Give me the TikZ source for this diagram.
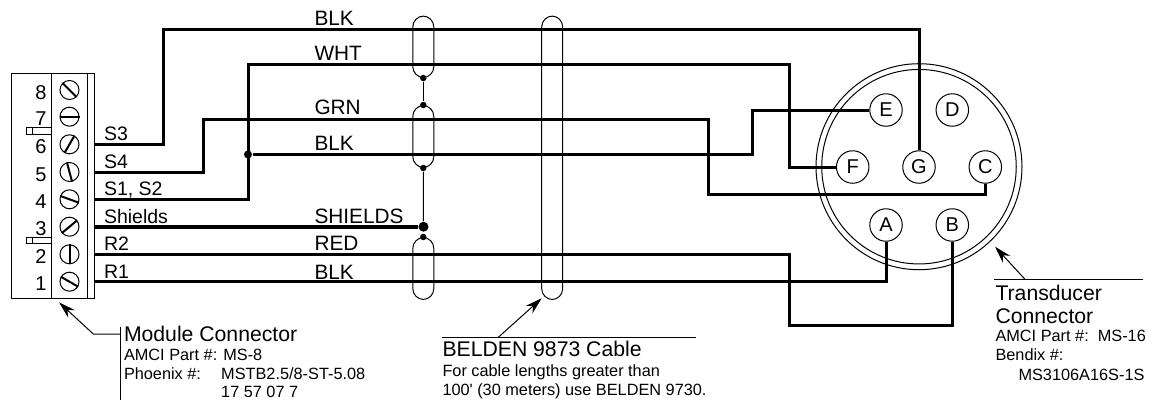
\documentclass[tikz,border=0pt]{standalone}
\usepackage{fontspec}
\setmainfont{Liberation Sans}
\usetikzlibrary{positioning,arrows.meta}

\begin{document}
\begin{tikzpicture}[
	x=1pt, y=-1pt, line width=1pt,
	screw/.style={circle, draw, minimum size=19pt, inner sep=0pt, on grid},
	slot/.style={line width=2pt},
	pin/.style={circle, draw, minimum size=32.5pt, inner sep=0pt, on grid, font=\fontsize{20}{22}\selectfont},
	wire/.style={line width=3pt},
	sleeve/.style={rectangle, draw, rounded corners=10.9pt, minimum width=21pt, inner sep=0pt},
	dot/.style={circle, fill=black, inner sep=0pt, minimum size=6.5pt},
	label/.style={anchor=base west, inner sep=0pt, font=\fontsize{19.5}{22}\selectfont},
	colour/.style={label, font=\fontsize{20.8}{23}\selectfont},
	big/.style={anchor=base west, inner sep=0pt, font=\fontsize{21.2}{24}\selectfont},
	small/.style={anchor=base west, inner sep=0pt, font=\fontsize{16.3}{18}\selectfont},
	num/.style={anchor=base east, inner sep=0pt, font=\fontsize{20}{22}\selectfont},
	leader/.style={-{Stealth[length=17pt,width=10pt]}}
	]
	\useasboundingbox (0,0) rectangle (1163,402);

	% Module connector body
	\node[draw, anchor=north west, minimum width=83.5pt, minimum height=225pt, inner sep=0pt] (plug) at (10.5,72.7) {};
	\draw (51.3,72.7) -- (51.3,297.7);
	\draw (87.3,72.7) -- (87.3,297.7);
	\draw (26.7,127.3) rectangle (51.3,134);
	\draw (32,127.3) -- (32,134);
	\draw (26.7,237.3) rectangle (51.3,243.3);
	\draw (32,237.3) -- (32,243.3);

	% Screws and slots
	\node[screw] (s8) at (69.5,90) {};
	\node[screw, below=26.7pt of s8] (s7) {};
	\node[screw, below=27.6pt of s7] (s6) {};
	\node[screw, below=27.7pt of s6] (s5) {};
	\node[screw, below=27.3pt of s5] (s4) {};
	\node[screw, below=27.4pt of s4] (s3) {};
	\node[screw, below=27.6pt of s3] (s2) {};
	\node[screw, below=27.4pt of s2] (s1) {};
	\draw[slot] (s8.135) -- (s8.-45);
	\draw[slot] (s7.180) -- (s7.0);
	\draw[slot] (s6.60) -- (s6.240);
	\draw[slot] (s5.105) -- (s5.285);
	\draw[slot] (s4.160) -- (s4.-20);
	\draw[slot] (s3.40) -- (s3.220);
	\draw[slot] (s2.90) -- (s2.270);
	\draw[slot] (s1.150) -- (s1.-30);

	% Terminal numbers
	\node[num] (n8) at (47,99) {8};
	\node[num] (n7) at (47,125) {7};
	\node[num] (n6) at (47,153) {6};
	\node[num] (n5) at (47,181) {5};
	\node[num] (n4) at (47,208) {4};
	\node[num] (n3) at (47,235) {3};
	\node[num] (n2) at (47,263) {2};
	\node[num] (n1) at (47,290) {1};

	% Terminal names
	\node[label] (ls3) at (103.5,140.7) {S3};
	\node[label] (ls4) at (103.5,168) {S4};
	\node[label] (ls12) at (103.5,195.7) {S1, S2};
	\node[label] (lsh) at (103.5,223) {Shields};
	\node[label] (lr2) at (103.5,250) {R2};
	\node[label] (lr1) at (103.5,278) {R1};

	% Transducer connector shell and pins
	\node[circle, draw, minimum size=206pt, inner sep=0pt] (shell) at (919,166.7) {};
	\node[circle, draw, minimum size=194.5pt, inner sep=0pt] (shellin) at (919,166.7) {};
	\node[pin] (G) at (919,167) {G};
	\node[pin, left=66.3pt of G] (F) {F};
	\node[pin, right=66.3pt of G] (C) {C};
	\node[pin] (E) at (886,110) {E};
	\node[pin, right=66.3pt of E] (D) {D};
	\node[pin] (A) at (886,225) {A};
	\node[pin, right=66.3pt of A] (B) {B};

	% Wires
	\node[dot, minimum size=8pt] (jn) at (248,154.5) {};
	\node[dot, minimum size=10pt] (shd) at (423.5,226.7) {};
	\draw[wire] (plug.east |- s6) -| (163,29) -| (G.north);
	\draw[wire] (plug.east |- s5) -| (203,119) -| (708,194) -| (C.south);
	\draw[wire] (plug.east |- s4) -| (248,64) -| (789.5,167) -- (F.west);
	\draw[wire] (jn) -| (752,110) -- (E.west);
	\draw[wire, line width=3.8pt] (plug.east |- s3) -- (shd);
	\draw[wire] (plug.east |- s2) -| (789.5,325) -| (B.south);
	\draw[wire] (plug.east |- s1) -| (A.south);

	% Wire colours
	\node[colour] (c1) at (314,25) {BLK};
	\node[colour] (c2) at (314,60) {WHT};
	\node[colour] (c3) at (314,114.3) {GRN};
	\node[colour] (c4) at (314,150.7) {BLK};
	\node[colour] (c5) at (314,223.3) {SHIELDS};
	\node[colour] (c6) at (314,250) {RED};
	\node[colour] (c7) at (314,279.3) {BLK};

	% Pair sleeves and drain wire
	\node[sleeve, minimum height=61.5pt] (p1) at (423.3,46.8) {};
	\node[sleeve, minimum height=62pt] (p2) at (423.3,136.5) {};
	\node[sleeve, minimum height=62pt] (p3) at (423.3,268.5) {};
	\node[sleeve, minimum height=283.5pt] (cable) at (552.2,157.8) {};
	\node[dot] (d1) at (p1.south) {};
	\node[dot] (d2) at (p2.north) {};
	\node[dot] (d3) at (p2.south) {};
	\node[dot] (d4) at (p3.north) {};
	\draw (d1) -- (d2);
	\draw (d3) -- (shd);

	% Module connector callout
	\coordinate (mtip) at (59,302.3);
	\coordinate (mbend) at (93.3,334);
	\coordinate (mbar) at (120.7,334);
	\draw[leader] (mbar) -- (mbend) -- (mtip);
	\draw (120.7,326.7) -- (120.7,400);
	\node[big] (m1) at (123.5,341.7) {Module Connector};
	\node[small] (m2) at (123.5,360.7) {AMCI Part \#: MS-8};
	\node[small] (m3) at (123.5,379.3) {Phoenix \#:};
	\node[small] (m4) at (220.7,379.3) {MSTB2.5/8-ST-5.08};
	\node[small] (m5) at (220.7,397.3) {17 57 07 7};

	% Cable callout
	\coordinate (cbend) at (498.3,337.3);
	\coordinate (ctip) at (541.7,298.3);
	\draw (442,337.3) -- (696,337.3);
	\draw[leader] (cbend) -- (ctip);
	\node[big] (b1) at (442,356.7) {BELDEN 9873 Cable};
	\node[small] (b2) at (442,376) {For cable lengths greater than};
	\node[small] (b3) at (442,395) {100\textquotesingle{} (30 meters) use BELDEN 9730.};

	% Transducer callout
	\coordinate (tbend) at (1025,279.3);
	\coordinate (ttip) at (995,246.7);
	\draw (994,279.3) -- (1143,279.3);
	\draw[leader] (tbend) -- (ttip);
	\node[big] (t1) at (995,300) {Transducer};
	\node[big] (t2) at (995,323) {Connector};
	\node[small] (t3) at (995,341.7) {AMCI Part \#:\ \ MS-16};
	\node[small] (t4) at (995,360.7) {Bendix \#:};
	\node[small] (t5) at (1018,380.7) {MS3106A16S-1S};
\end{tikzpicture}
\end{document}
